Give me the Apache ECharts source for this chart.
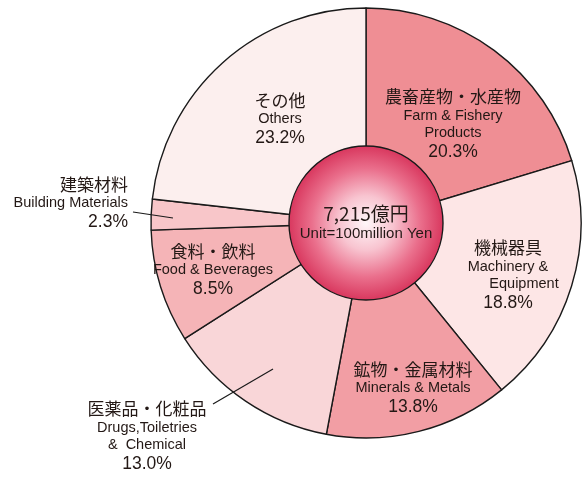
<!DOCTYPE html>
<html>
<head>
<meta charset="utf-8">
<script src="https://cdn.jsdelivr.net/npm/echarts@6/dist/echarts.min.js"></script>
<style>
  html, body { margin: 0; padding: 0; background: #fff; }
  #chart { width: 582px; height: 477px; }
</style>
</head>
<body>
<div id="chart"></div>
<script>
// export shares by category, clockwise from 12 o'clock
const namesJa = ['農畜産物・水産物', '機械器具', '鉱物・金属材料', '医薬品・化粧品', '食料・飲料', '建築材料', 'その他']
const namesEn = [
  ['Farm & Fishery', 'Products'],
  ['Machinery &', 'Equipment'],
  ['Minerals & Metals'],
  ['Drugs,Toiletries', '&  Chemical'],
  ['Food & Beverages'],
  ['Building Materials'],
  ['Others']
]
const shares = [20.3, 18.8, 13.8, 13.0, 8.5, 2.3, 23.2]
const totalText = '7,215億円'
const unitText = 'Unit=100million Yen'

const colors = ['#ef8e94', '#fde6e6', '#f29ea4', '#f9d6d8', '#f5b4b7', '#f8c6c9', '#fcefee']

// label anchor (x, y, align) and leader lines for the outside ones
const labelAnchor = [
  { x: 453, y: 125, align: 'center' },
  { x: 508, y: 276, align: 'center' },
  { x: 413, y: 389, align: 'center' },
  { x: 147, y: 437, align: 'center', line: [[273, 369], [213, 404]] },
  { x: 213, y: 271, align: 'center' },
  { x: 128, y: 204, align: 'right', line: [[173, 218], [133, 212]] },
  { x: 280, y: 120, align: 'center' }
]
const indentLines = { 'Equipment': 'enShift' }

const CJK = '"Noto Sans CJK JP", sans-serif'
const LAT = '"Liberation Sans", Arial, sans-serif'
const INK = '#231815'
const EDGE = '#1a1a1a'

function labelText(i) {
  const parts = ['{cn|' + namesJa[i] + '}']
  namesEn[i].forEach(l => parts.push('{' + (indentLines[l] || 'en') + '|' + l + '}'))
  parts.push('{pct|' + shares[i].toFixed(1) + '%}')
  return parts.join('\n')
}

const outside = new Set([3, 5])

const sliceData = shares.map((v, i) => ({
  value: v,
  name: namesJa[i],
  itemStyle: { color: colors[i] }
}))

// same slices again, transparent, only to carry labels and leader lines above the fills
const labelData = shares.map((v, i) => ({
  value: v,
  name: namesJa[i],
  label: { position: outside.has(i) ? 'outside' : 'inside' },
  labelLine: { show: outside.has(i) }
}))

const chart = echarts.init(document.getElementById('chart'), null, { renderer: 'canvas' })

chart.setOption({
  animation: false,
  series: [
    {
      type: 'pie',
      silent: true,
      z: 2,
      center: [366, 223],
      radius: [0, 215],
      startAngle: 90,
      clockwise: true,
      itemStyle: { borderColor: EDGE, borderWidth: 1.4 },
      label: { show: false },
      labelLine: { show: false },
      data: sliceData
    },
    {
      type: 'pie',
      silent: true,
      z: 4,
      center: [366, 223],
      radius: [0, 215],
      startAngle: 90,
      clockwise: true,
      avoidLabelOverlap: false,
      itemStyle: { color: 'rgba(0,0,0,0)', borderWidth: 0 },
      label: {
        show: true,
        formatter: p => labelText(p.dataIndex),
        color: INK,
        rich: {
          cn: { fontFamily: CJK, fontSize: 17, lineHeight: 20, color: INK },
          en: { fontFamily: LAT, fontSize: 14.5, lineHeight: 17, color: INK },
          enShift: { fontFamily: LAT, fontSize: 14.5, lineHeight: 17, color: INK, padding: [0, 0, 0, 32] },
          pct: { fontFamily: LAT, fontSize: 17.5, lineHeight: 22, color: INK }
        }
      },
      labelLine: { lineStyle: { color: EDGE, width: 1.2 } },
      labelLayout: params => {
        const a = labelAnchor[params.dataIndex]
        const out = { x: a.x, y: a.y, align: a.align, verticalAlign: 'middle' }
        if (a.line) out.labelLinePoints = a.line
        return out
      },
      data: labelData
    },
    {
      type: 'pie',
      silent: true,
      z: 6,
      center: [366, 223],
      radius: [0, 77],
      itemStyle: {
        borderColor: EDGE,
        borderWidth: 1.4,
        color: {
          type: 'radial', x: 0.5, y: 0.5, r: 0.5,
          colorStops: [
            { offset: 0, color: '#fff7f9' },
            { offset: 0.35, color: '#f8c4d0' },
            { offset: 0.7, color: '#ea6f8c' },
            { offset: 1, color: '#d8365d' }
          ]
        }
      },
      label: {
        show: true,
        position: 'center',
        formatter: '{a|' + totalText + '}\n{b|' + unitText + '}',
        rich: {
          a: { fontFamily: CJK, fontSize: 19, lineHeight: 22, color: INK },
          b: { fontFamily: LAT, fontSize: 15, lineHeight: 19, color: INK }
        }
      },
      labelLine: { show: false },
      data: [{ value: 1, name: 'total' }]
    }
  ]
})
</script>
</body>
</html>
